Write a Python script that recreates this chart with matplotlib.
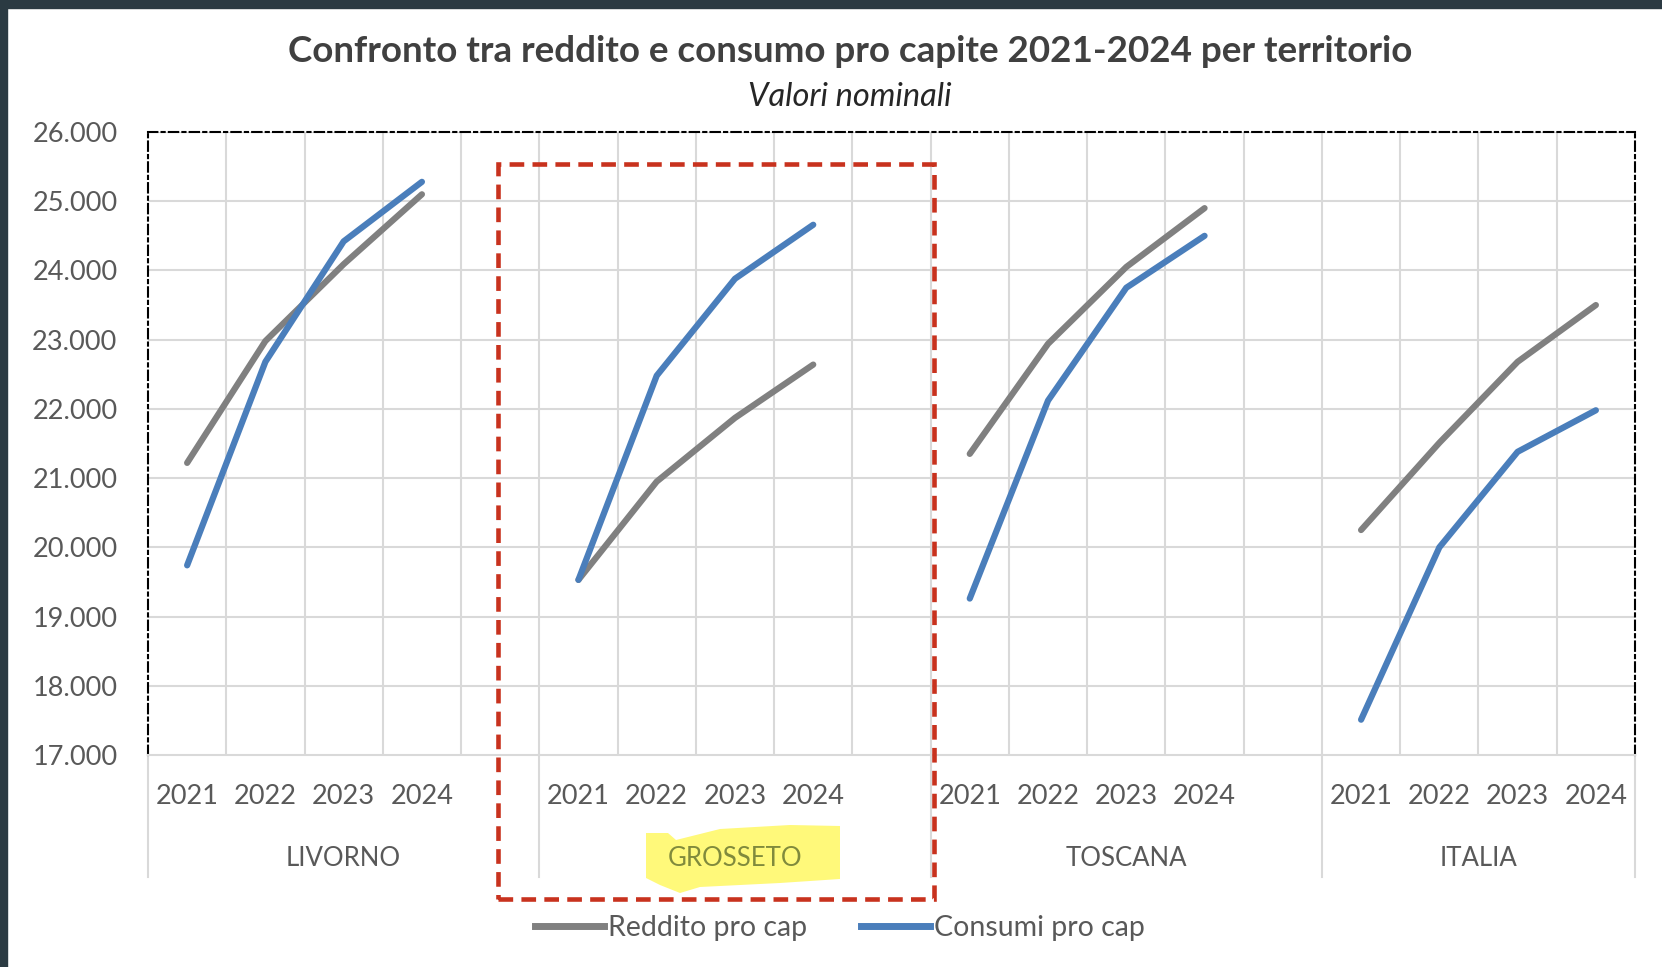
import matplotlib
matplotlib.use("Agg")
import matplotlib.pyplot as plt
from matplotlib.patches import Rectangle, Polygon
from matplotlib.lines import Line2D

plt.rcParams['font.family'] = ['Lato', 'DejaVu Sans']

# data
territori = ["LIVORNO", "GROSSETO", "TOSCANA", "ITALIA"]
anni = ["2021", "2022", "2023", "2024"]
reddito = {
    "LIVORNO": [21220, 22980, 24090, 25100],
    "GROSSETO": [19530, 20950, 21870, 22640],
    "TOSCANA": [21350, 22940, 24050, 24900],
    "ITALIA": [20250, 21510, 22680, 23500],
}
consumi = {
    "LIVORNO": [19740, 22680, 24420, 25280],
    "GROSSETO": [19530, 22480, 23880, 24660],
    "TOSCANA": [19260, 22120, 23750, 24500],
    "ITALIA": [17510, 20000, 21380, 21980],
}

W, H = 1662, 967
GRAY = "#808080"
BLUE = "#4a7ebb"
TXT = "#595959"
GRID = "#d9d9d9"

fig = plt.figure(figsize=(W / 100, H / 100), dpi=100)
fig.patch.set_facecolor("white")

def fx(px):
    return px / W

def fy(py):
    return 1 - py / H

# dark frame of the screenshot
fig.add_artist(Rectangle((0, fy(8)), 1, 8 / H, transform=fig.transFigure, color="#2b3a42", zorder=0))
fig.add_artist(Rectangle((0, 0), fx(7), 1, transform=fig.transFigure, color="#2b3a42", zorder=0))

left, right, top, bottom = 148, 1635, 132, 755
ax = fig.add_axes([fx(left), fy(bottom), fx(right - left), (bottom - top) / H])

n_slot = 5 * len(territori) - 1
for g, t in enumerate(territori):
    xs = [g * 5 + j + 0.5 for j in range(len(anni))]
    ax.plot(xs, reddito[t], color=GRAY, lw=4.5, solid_capstyle="round", zorder=3)
    ax.plot(xs, consumi[t], color=BLUE, lw=4.5, solid_capstyle="round", zorder=4)

ax.set_xlim(0, n_slot)
ax.set_ylim(17000, 26000)
ax.set_yticks(range(17000, 26001, 1000))
ax.set_yticklabels([f"{v:,}".replace(",", ".") for v in range(17000, 26001, 1000)],
                   fontsize=19.5, color=TXT)
ax.tick_params(axis="y", length=0, pad=22)
ax.set_xticks([])

for v in range(18000, 26001, 1000):
    ax.axhline(v, color=GRID, lw=1.5, zorder=1)
for i in range(1, n_slot):
    ax.axvline(i, color=GRID, lw=1.5, zorder=1)

dd = (0, (4.5, 2, 1.5, 2))
for s in ["top", "left", "right"]:
    ax.spines[s].set_linestyle(dd)
    ax.spines[s].set_linewidth(1.5)
    ax.spines[s].set_color("black")
ax.spines["bottom"].set_color(GRID)
ax.spines["bottom"].set_linewidth(1.5)

# multi-level category axis
ah = bottom - top
trans = ax.get_xaxis_transform()
for g, t in enumerate(territori):
    for j, a in enumerate(anni):
        ax.text(g * 5 + j + 0.5, -(796 - bottom) / ah, a, transform=trans, ha="center", va="center",
                fontsize=19.5, color=TXT, clip_on=False)
    g_end = min(g * 5 + 5, n_slot)
    col = "#808a3c" if t == "GROSSETO" else TXT
    ax.text((g * 5 + g_end) / 2, -(858 - bottom) / ah, t, transform=trans, ha="center", va="center",
            fontsize=18.5, color=col, clip_on=False)
for xb in [0, 5, 10, 15, n_slot]:
    ax.add_line(Line2D([xb, xb], [0, -(877 - bottom) / ah], transform=trans, color=GRID, lw=1.5,
                       clip_on=False))

# titles
fig.text(fx(850), fy(52), "Confronto tra reddito e consumo pro capite 2021-2024 per territorio",
         ha="center", va="center", fontsize=26.5, fontweight="bold", color="#404040")
fig.text(fx(850), fy(97), "Valori nominali", ha="center", va="center", fontsize=23.5,
         style="italic", color="#262626")

# yellow highlight on GROSSETO (behind the label)
hl = [(646, 833), (668, 833), (676, 840), (720, 829), (790, 825), (840, 826), (840, 879),
      (780, 883), (700, 887), (680, 893), (660, 885), (646, 878)]
fig.add_artist(Polygon([(fx(x), fy(y)) for x, y in hl], closed=True, transform=fig.transFigure,
                       facecolor="#fff97a", edgecolor="none", zorder=-1))

# red dashed frame
fig.add_artist(Rectangle((fx(498), fy(899)), fx(934 - 498), (899 - 164) / H, transform=fig.transFigure,
                         fill=False, edgecolor="#c8321e", lw=3.3, linestyle=(0, (3.2, 1.8)), zorder=7))

# legend
handles = [Line2D([], [], color=GRAY, lw=5), Line2D([], [], color=BLUE, lw=5)]
fig.legend(handles, ["Reddito pro cap", "Consumi pro cap"], loc="center",
           bbox_to_anchor=(fx(840), fy(928)), ncol=2, frameon=False, fontsize=20.5,
           handlelength=2.4, handletextpad=0.15, columnspacing=1.9, labelcolor=TXT)

fig.savefig("out.png", dpi=100)
